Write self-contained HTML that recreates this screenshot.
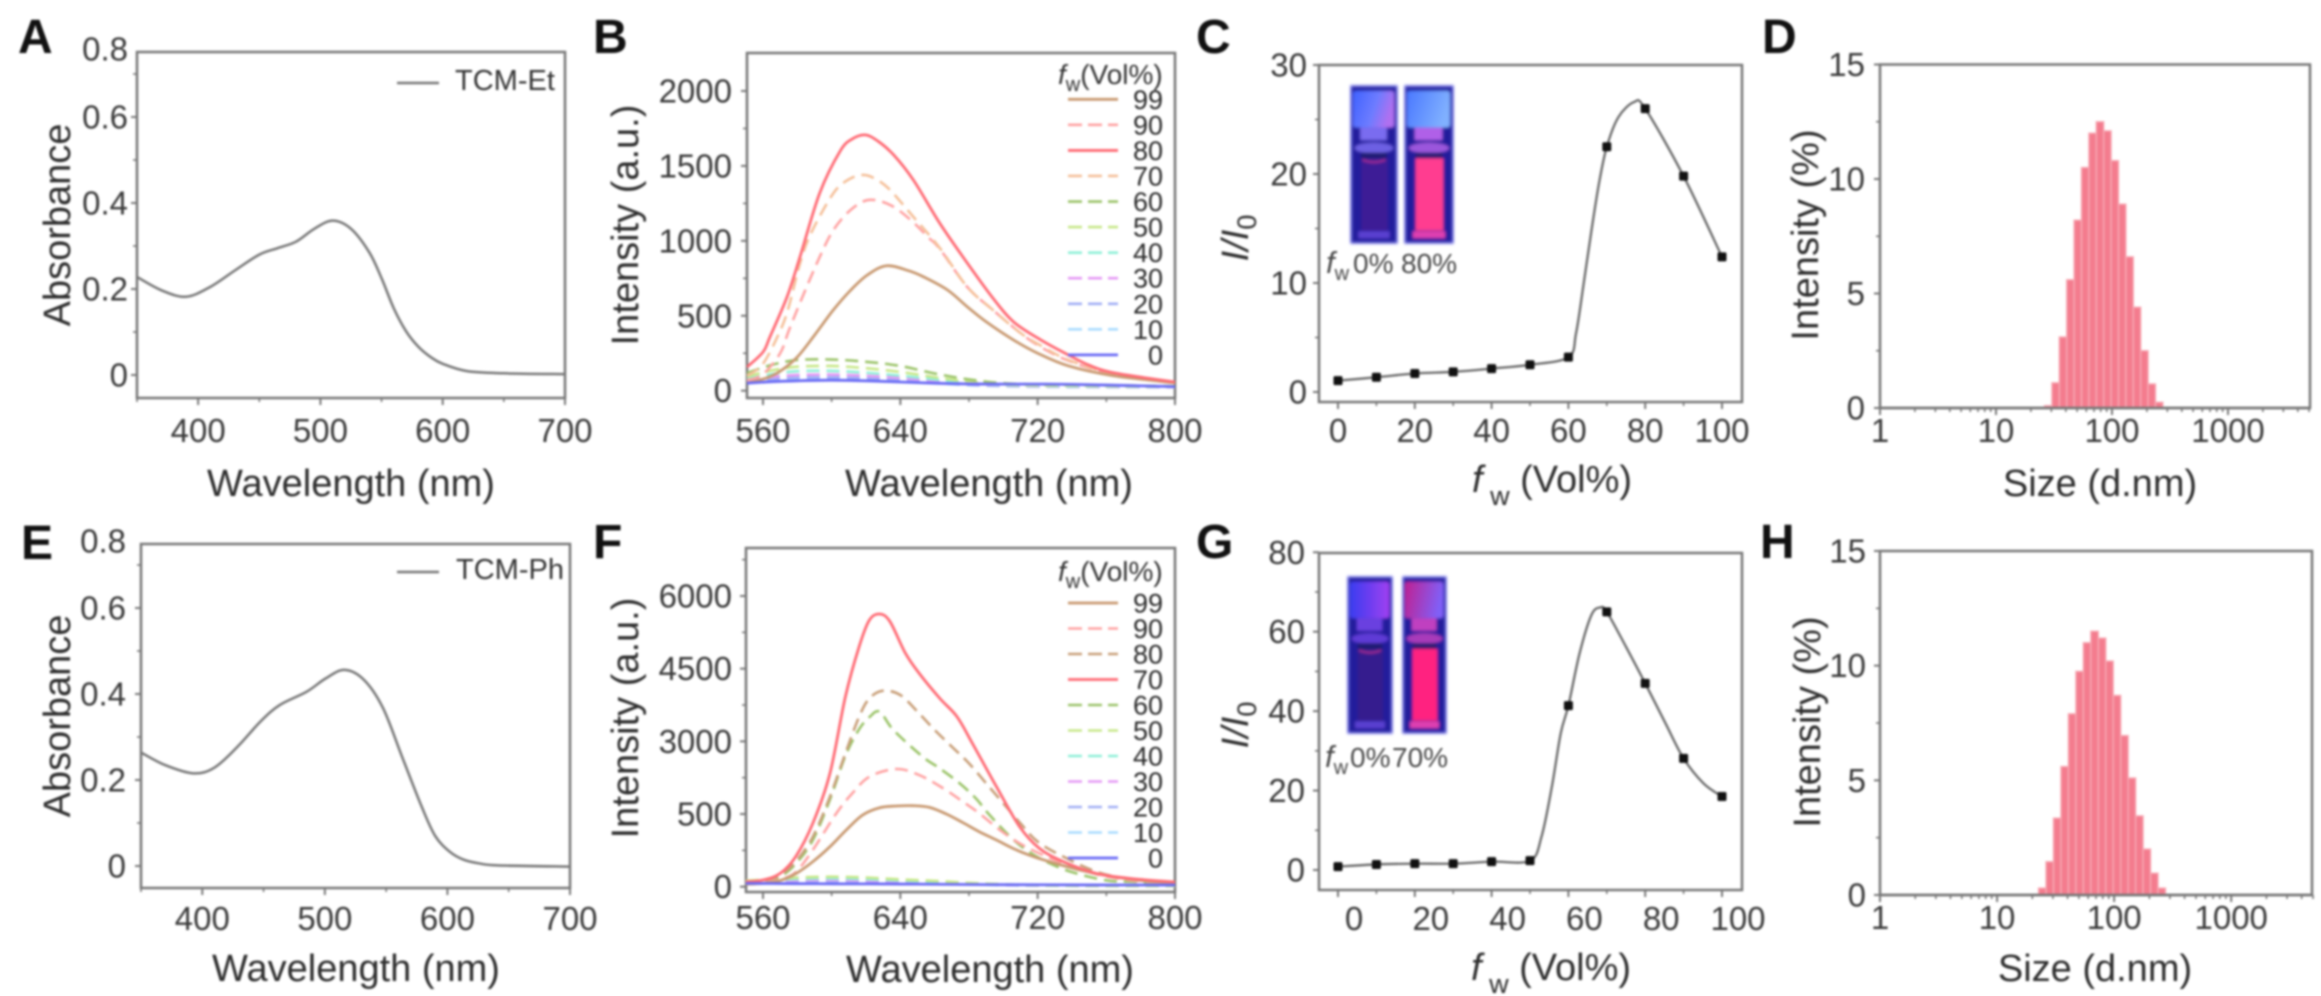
<!DOCTYPE html>
<html lang="en">
<head>
<meta charset="utf-8">
<title>TCM-Et and TCM-Ph characterization</title>
<style>
html,body{margin:0;padding:0;background:#fff;width:2321px;height:996px;overflow:hidden}
#figure{display:block;filter:blur(1px)}
text{font-family:"Liberation Sans",sans-serif;fill:#333}
.letter{font-size:48px;font-weight:bold;fill:#111}
.title{font-size:38px;fill:#2e2e2e}
.tick{font-size:33px;fill:#3a3a3a}
.leg{font-size:27px;fill:#2a2a2a}
.ltitle{font-size:28px;fill:#333}
.cap{font-size:28px;fill:#4a4a4a}
</style>
</head>
<body>
<svg id="figure" width="2321" height="996" viewBox="0 0 2321 996" xmlns="http://www.w3.org/2000/svg">
  <defs>
    <linearGradient id="capA" x1="0" y1="0" x2="1" y2="0.3"><stop offset="0" stop-color="#3f62ff"/><stop offset="0.6" stop-color="#6d7cff"/><stop offset="1" stop-color="#b070f0"/></linearGradient>
    <linearGradient id="capB" x1="0" y1="0" x2="1" y2="0.3"><stop offset="0" stop-color="#4a78ff"/><stop offset="1" stop-color="#80b0ff"/></linearGradient>
    <linearGradient id="capC" x1="0" y1="0" x2="1" y2="0"><stop offset="0" stop-color="#3a3cf0"/><stop offset="1" stop-color="#a040f0"/></linearGradient>
    <linearGradient id="capD" x1="0" y1="0" x2="1" y2="0.2"><stop offset="0" stop-color="#c02090"/><stop offset="1" stop-color="#8060f8"/></linearGradient>
    <filter id="vialBlur" x="-5%" y="-5%" width="110%" height="110%"><feGaussianBlur stdDeviation="1.4"/></filter>
  </defs>

  <g>
    <text class="letter" x="18" y="53">A</text>
    <text class="letter" x="593" y="53">B</text>
    <text class="letter" x="1196" y="53">C</text>
    <text class="letter" x="1762" y="53">D</text>
    <text class="letter" x="21" y="559">E</text>
    <text class="letter" x="593" y="558">F</text>
    <text class="letter" x="1196" y="558">G</text>
    <text class="letter" x="1760" y="558">H</text>
  </g>

  <g>
    <text class="title" x="351" y="496" text-anchor="middle">Wavelength (nm)</text>
    <text class="title" x="989" y="496" text-anchor="middle">Wavelength (nm)</text>
    <text class="title" x="1472" y="492"><tspan font-style="italic">f</tspan><tspan font-size="27" dy="13"> w</tspan><tspan dy="-13"> (Vol%)</tspan></text>
    <text class="title" x="2100" y="496" text-anchor="middle">Size (d.nm)</text>
    <text class="title" x="356" y="981" text-anchor="middle">Wavelength (nm)</text>
    <text class="title" x="990" y="982" text-anchor="middle">Wavelength (nm)</text>
    <text class="title" x="1471" y="980"><tspan font-style="italic">f</tspan><tspan font-size="27" dy="13"> w</tspan><tspan dy="-13"> (Vol%)</tspan></text>
    <text class="title" x="2095" y="981" text-anchor="middle">Size (d.nm)</text>

    <text class="title" transform="translate(70 225) rotate(-90)" text-anchor="middle">Absorbance</text>
    <text class="title" transform="translate(70 716) rotate(-90)" text-anchor="middle">Absorbance</text>
    <text class="title" transform="translate(638 225) rotate(-90)" text-anchor="middle">Intensity (a.u.)</text>
    <text class="title" transform="translate(638 718) rotate(-90)" text-anchor="middle">Intensity (a.u.)</text>
    <text class="title" transform="translate(1248 238) rotate(-90)" text-anchor="middle"><tspan font-style="italic">I/I</tspan><tspan font-size="27" dy="8">0</tspan></text>
    <text class="title" transform="translate(1248 725) rotate(-90)" text-anchor="middle"><tspan font-style="italic">I/I</tspan><tspan font-size="27" dy="8">0</tspan></text>
    <text class="title" transform="translate(1818 235) rotate(-90)" text-anchor="middle">Intensity (%)</text>
    <text class="title" transform="translate(1820 722) rotate(-90)" text-anchor="middle">Intensity (%)</text>
  </g>

  <g>
    <text class="cap" x="1326" y="273"><tspan font-style="italic" font-size="31">f</tspan><tspan font-size="20" dy="7">w</tspan><tspan x="1353" dy="-7">0%</tspan><tspan x="1401">80%</tspan></text>
    <text class="cap" x="1325" y="767"><tspan font-style="italic" font-size="31">f</tspan><tspan font-size="20" dy="7">w</tspan><tspan x="1350" dy="-7">0%</tspan><tspan x="1392">70%</tspan></text>
  </g>

  <g id="panel-a"></g>
  <g id="panel-b"></g>
  <g id="panel-c"></g>
  <g id="panel-d"></g>
  <g id="panel-e"></g>
  <g id="panel-f"></g>
  <g id="panel-g"></g>
  <g id="panel-h"></g>
</svg>

<script>
/* ---------- DATA: absorbance ---------- */
const aWave = [350,370,390,410,430,450,465,480,495,510,525,540,550,560,570,580,590,600,620,650,700];
const aAbs  = [0.228,0.197,0.182,0.205,0.243,0.28,0.295,0.31,0.34,0.359,0.34,0.285,0.225,0.155,0.102,0.066,0.042,0.026,0.009,0.004,0.002];
const eWave = [350,369.4,392.8,410,428.8,447.5,463,485,500.6,516,532,547.5,563,579,590,602,613,626,641,700];
const eAbs  = [0.264,0.235,0.2155,0.229,0.2775,0.336,0.374,0.405,0.436,0.456,0.4326,0.367,0.254,0.138,0.07,0.033,0.015,0.006,0.0015,-0.0015];
const absYTicks = [0,0.2,0.4,0.6,0.8];
const absYLabels = ['0','0.2','0.4','0.6','0.8'];
const absYMinor = [0.1,0.3,0.5,0.7];
const absXTicks = [400,500,600,700];
const absXLabels = ['400','500','600','700'];
const absXMinor = [350,450,550,650];

/* ---------- DATA: panel B emission ---------- */
const b99Wl = [550.7,562,570,580,590,601,611,620.8,632,645,653.5,667.5,679,690,706,720,738,764,800];
const b99I  = [50,85,130,225,370,539,670,772,834,800,760,672,560,460,338,250,165,100,53];
const b90Wl = [550.7,560,570,575,583,593,601,611,621.5,634,646,656,663,679,694,710,722,738,765,800];
const b90I  = [70,110,250,400,626,892,1072,1206,1273,1240,1140,1026,946,692,538,385,290,200,105,50];
const b80Wl = [550.7,560,564,574,581.6,593,605,612,619.6,627,636,647.6,663,679,694,706,722,738,750,765,800];
const b80I  = [158,258,358,626,895,1318,1600,1680,1707,1665,1575,1406,1117,852,617,459,338,238,170,118,58];
const b70Wl = [550.7,560,570,575,581.6,588,601,610,618.5,626,634,647.6,663,679,694,710,722,738,765,800];
const b70I  = [100,180,400,560,852,1052,1318,1410,1440,1410,1340,1160,952,692,538,385,300,205,110,50];
const bLowWl = [550.7,565,580,600,620,640,660,680,700,720,740,770,800];
const b60I = [118,172,205,208,193,165,115,75,50,42,40,35,30];
const b50I = [95,135,160,165,150,125,90,60,42,36,34,30,28];
const b40I = [80,110,130,132,120,100,75,50,38,33,30,28,26];
const b30I = [70,92,105,108,100,85,65,45,35,30,28,26,25];
const b20I = [60,78,88,90,84,72,56,40,32,28,26,25,24];
const b10I = [55,68,75,78,72,62,50,37,30,27,25,24,23];
const b0I  = [50,60,66,70,66,58,50,45,44,44,42,35,27];
const bYTicks = [0,500,1000,1500,2000];
const bYLabels = ['0','500','1000','1500','2000'];
const bYMinor = [250,750,1250,1750];
const emXTicks = [560,640,720,800];
const emXLabels = ['560','640','720','800'];
const emXMinor = [600,680,760];
const legendLabels = ['99','90','80','70','60','50','40','30','20','10','0'];

/* ---------- DATA: panel F emission ---------- */
const f99Wl = [550,560,569.7,579.4,589,599,608.5,618,628,637.7,647.4,657,666.8,676.5,686,696,705.6,715,725,744.5,764,783,800];
const f99I  = [50,69,124,275,516,826,1170,1479,1630,1665,1672,1637,1500,1321,1135,963,791,654,537,344,206,124,69];
const f90Wl = [550,560,570,579,589,602.7,612,622,637.6,651,665,676.5,686,698,709.5,721,735,755,775,800];
const f90I  = [70,80,150,300,757,1514,1926,2270,2429,2305,2030,1754,1514,1170,894,688,480,250,130,70];
const f80Wl = [550,560,570,579,589,599,608,616,622,630,640,650,660,670,680,690,700,710,720,735,755,775,800];
const f80I  = [90,110,240,516,1030,1858,2752,3509,3887,4045,3956,3612,3234,2890,2546,2133,1720,1307,929,619,300,150,60];
const f70Wl = [550,560,570,579,589,599,608,616,622,628,634,643,651,663,673,682,696,709.5,721,735,754,773.6,800];
const f70I  = [103,138,275,619,1307,2339,3922,4954,5504,5628,5470,4816,4403,3887,3509,2958,2064,1238,791,516,275,172,96];
const f60Wl = [550,560,570,579,589,599,608,616,622,628,636,653,663,674.6,684,692,704,713.4,725,740,760,775,800];
const f60I  = [100,110,210,470,960,1800,2700,3250,3500,3612,3234,2683,2442,2133,1823,1479,1032,757,516,300,130,100,60];
const fLowWl = [550,565,580,600,620,640,660,680,700,720,750,800];
const f50I = [124,150,190,206,190,150,120,80,50,30,20,15];
const f40I = [100,130,160,170,155,125,100,70,45,28,18,15];
const f30I = [90,110,130,140,125,105,85,60,40,25,18,14];
const f20I = [85,100,115,120,110,92,75,52,36,24,18,14];
const f10I = [75,88,100,105,95,82,65,46,32,22,16,12];
const f0I  = [69,66,62,60,58,55,50,45,42,40,36,34];
const fYTicks = [0,1500,3000,4500,6000];
const fYLabels = ['0','500','3000','4500','6000'];
const fYMinor = [750,2250,3750,5250,6750];

/* ---------- DATA: I/I0 ---------- */
const fracX = [0,10,20,30,40,50,60,70,80,90,100];
const cRatio = [1.04,1.35,1.7,1.85,2.15,2.5,3.2,22.5,26,19.8,12.4];
const cCurveX = [0,10,20,30,40,50,60,62,64,66,68,70,73,77.1,80,90,100];
const cCurveY = [1.04,1.35,1.7,1.85,2.15,2.5,3.2,5.4,10,14.8,19.2,22.5,25.2,26.6,26,19.8,12.4];
const cYTicks = [0,10,20,30];
const cYLabels = ['0','10','20','30'];
const cYMinor = [5,15,25];
const gRatio = [0.85,1.4,1.6,1.6,2.1,2.35,41.4,65,47,28.1,18.5];
const gCurveX = [0,10,20,30,40,50,53,55.7,58,60,62.9,66,68.3,70,75,80,85.3,90,95.2,100];
const gCurveY = [0.85,1.4,1.6,1.6,2.1,2.35,8.4,21,34.4,41.4,54.5,64.2,66.1,65,56.2,47,36.9,28.1,21.8,18.5];
const gYTicks = [0,20,40,60,80];
const gYLabels = ['0','20','40','60','80'];
const gYMinor = [10,30,50,70];
const fracXTicks = [0,20,40,60,80,100];
const fracXLabels = ['0','20','40','60','80','100'];
const fracXMinor = [10,30,50,70,90];

/* ---------- DATA: DLS size distribution ---------- */
const dSizes = [28.21,32.67,37.84,43.82,50.75,58.77,68.06,78.82,91.28,105.7,122.4,141.8,164.2,190.1,220.2,255];
const dVals  = [0.1,1.1,3.1,5.6,8.2,10.5,12.0,12.5,12.1,10.8,8.9,6.6,4.4,2.5,1.05,0.25];
const hSizes = [24.36,28.21,32.67,37.84,43.82,50.75,58.77,68.06,78.82,91.28,105.7,122.4,141.8,164.2,190.1,220.2,255];
const hVals  = [0.3,1.45,3.35,5.6,7.9,9.75,11.0,11.5,11.2,10.2,8.7,6.95,5.1,3.45,2.0,0.95,0.3];
const sizeXTicks = [1,10,100,1000];
const sizeXLabels = ['1','10','100','1000'];
const sizeXMinor = [2,3,4,5,6,7,8,9,20,30,40,50,60,70,80,90,200,300,400,500,600,700,800,900,2000,3000,4000,5000];
const sizeYTicks = [0,5,10,15];
const sizeYLabels = ['0','5','10','15'];
const sizeYMinor = [2.5,7.5,12.5];

/* ---------- drawing helpers ---------- */
const NS = 'http://www.w3.org/2000/svg';
const AXIS = '#777';
function mk(tag, attrs, parent) {
  const el = document.createElementNS(NS, tag);
  for (const k in attrs) el.setAttribute(k, attrs[k]);
  parent.appendChild(el);
  return el;
}
function linear(d0, d1, r0, r1) {
  return v => r0 + (v - d0) * (r1 - r0) / (d1 - d0);
}
function logScale(d0, d1, r0, r1) {
  const a = Math.log10(d0), b = Math.log10(d1);
  return v => r0 + (Math.log10(v) - a) * (r1 - r0) / (b - a);
}
function smoothPath(px, py) {
  let d = 'M' + px[0].toFixed(2) + ' ' + py[0].toFixed(2);
  for (let i = 0; i < px.length - 1; i++) {
    const x0 = px[Math.max(i - 1, 0)], y0 = py[Math.max(i - 1, 0)];
    const x1 = px[i], y1 = py[i], x2 = px[i + 1], y2 = py[i + 1];
    const x3 = px[Math.min(i + 2, px.length - 1)], y3 = py[Math.min(i + 2, px.length - 1)];
    d += 'C' + (x1 + (x2 - x0) / 6).toFixed(2) + ' ' + (y1 + (y2 - y0) / 6).toFixed(2) + ' ' +
         (x2 - (x3 - x1) / 6).toFixed(2) + ' ' + (y2 - (y3 - y1) / 6).toFixed(2) + ' ' +
         x2.toFixed(2) + ' ' + y2.toFixed(2);
  }
  return d;
}
function drawAxes(root, box, o) {
  const frame = mk('rect', {x: box.l, y: box.t, width: box.r - box.l, height: box.b - box.t, fill: 'none', stroke: AXIS, 'stroke-width': 2.5}, root);
  
  
  o.xTicks.forEach((v, i) => {
    const x = box.x(v);
    const t = mk('line', {x1: x, x2: x, y1: box.b, y2: box.b + 7, stroke: AXIS, 'stroke-width': 2}, root);
    
    
    const lab = mk('text', {class: 'tick', x: x + (o.xLabelShift || 0), y: box.labelY, 'text-anchor': 'middle'}, root);
    lab.textContent = o.xLabels[i];
    
    
  });
  o.xMinor.forEach(v => {
    const x = box.x(v);
    const t = mk('line', {x1: x, x2: x, y1: box.b, y2: box.b + 4, stroke: AXIS, 'stroke-width': 1.6}, root);
    
    
  });
  o.yTicks.forEach((v, i) => {
    const y = box.y(v);
    if (y >= box.t - 1) {
      const t = mk('line', {x1: box.l - 6, x2: box.l, y1: y, y2: y, stroke: AXIS, 'stroke-width': 2}, root);
      
      
    }
    const ly = Math.max(y, box.t - 3);
    const lab = mk('text', {class: 'tick', x: box.labelX, y: ly + 11.5, 'text-anchor': 'end'}, root);
    lab.textContent = o.yLabels[i];
    
    
  });
  o.yMinor.forEach(v => {
    const y = box.y(v);
    const t = mk('line', {x1: box.l - 4, x2: box.l, y1: y, y2: y, stroke: AXIS, 'stroke-width': 1.6}, root);
    
    
  });
}
function drawLine(root, box, xs, ys, color, width, dash, name) {
  const d = smoothPath(xs.map(box.x), ys.map(box.y));
  const p = mk('path', {d: d, fill: 'none', stroke: color, 'stroke-width': width, 'stroke-linejoin': 'round'}, root);
  if (dash) p.setAttribute('stroke-dasharray', dash);
  
  
}
function drawEmissionLegend(root, style, rowY0, rowStep, titleY) {
  const title = mk('text', {class: 'ltitle', x: 1058, y: titleY + 9}, root);
  
  
  const f = mk('tspan', {'font-style': 'italic'}, title); f.textContent = 'f';
  const w = mk('tspan', {'font-size': 20, dy: 7}, title); w.textContent = 'w';
  const rest = mk('tspan', {dy: -7}, title); rest.textContent = '(Vol%)';
  legendLabels.forEach((lab, i) => {
    const y = rowY0 + i * rowStep;
    const s = style[i];
    const l = mk('line', {x1: 1068, x2: 1118, y1: y, y2: y, stroke: s.c, 'stroke-width': s.w}, root);
    if (s.d) l.setAttribute('stroke-dasharray', '14 6');
    
    
    const t = mk('text', {class: 'leg', x: 1163, y: y + 9.5, 'text-anchor': 'end'}, root);
    t.textContent = lab;
    
    
  });
}
function drawAbsLegend(root, y, label, textX) {
  const l = mk('line', {x1: 397, x2: 439, y1: y, y2: y, stroke: '#777', 'stroke-width': 2.5}, root);
  
  
  const t = mk('text', {x: textX, y: y + 7, 'font-size': 29, fill: '#3c3c3c'}, root);
  t.textContent = label;
  
  
}
function drawRatio(root, box, curveX, curveY, vals) {
  drawLine(root, box, curveX, curveY, '#6a6a6a', 2.3, null, 'ratio-curve');
  fracX.forEach((x, i) => {
    const r = mk('rect', {x: box.x(x) - 4.5, y: box.y(vals[i]) - 4.5, width: 9, height: 9, rx: 1.5, fill: '#111'}, root);
    
    
  });
}
function drawBars(root, box, sizes, vals) {
  const base = box.y(0);
  const step = 0.0319;
  sizes.forEach((s, i) => {
    const x0 = box.x(s / Math.pow(10, step));
    const x1 = box.x(s * Math.pow(10, step));
    const top = box.y(vals[i]);
    const r = mk('rect', {x: x0, y: top, width: x1 - x0, height: base - top, fill: '#f47c8e', stroke: '#f7a9b4', 'stroke-width': 1.4}, root);
    
    
  });
  const axisLine = mk('line', {x1: box.l, x2: box.r, y1: base, y2: base, stroke: AXIS, 'stroke-width': 2.5}, root);
  
  
}
function drawVial(root, x, y, w, h, capFill, bodyFill, glint, bright) {
  const g = mk('g', {filter: 'url(#vialBlur)'}, root);
  
  
  mk('rect', {x: x, y: y, width: w, height: h, fill: '#231e9c', stroke: '#6a6ae8', 'stroke-width': 1.5}, g);
  mk('rect', {x: x + w * 0.04, y: y + h * 0.03, width: w * 0.9, height: h * 0.235, fill: capFill, rx: 3}, g);
  mk('rect', {x: x + w * 0.2, y: y + h * 0.265, width: w * 0.58, height: h * 0.08, fill: glint}, g);
  mk('ellipse', {cx: x + w * 0.5, cy: y + h * 0.395, rx: w * 0.42, ry: h * 0.035, fill: glint, opacity: 0.85}, g);
  mk('rect', {x: x + w * 0.22, y: y + h * 0.425, width: w * 0.56, height: h * 0.035, fill: '#1c1a70'}, g);
  mk('rect', {x: x + w * 0.22, y: y + h * 0.46, width: w * 0.58, height: h * 0.46, fill: bodyFill}, g);
  if (!bright) {
    mk('path', {d: 'M' + (x + w * 0.25) + ' ' + (y + h * 0.47) + ' Q' + (x + w * 0.5) + ' ' + (y + h * 0.5) + ' ' + (x + w * 0.75) + ' ' + (y + h * 0.47), fill: 'none', stroke: '#c03090', 'stroke-width': 1.5}, g);
  }
  mk('rect', {x: x + w * 0.16, y: y + h * 0.925, width: w * 0.68, height: h * 0.045, fill: bright ? '#e040b0' : '#5a3fd0'}, g);
}

/* ---------- panel boxes ---------- */
function boxFor(l, r, t, b, xs, ys, labelX, labelY) {
  return {l: l, r: r, t: t, b: b, x: xs, y: ys, labelX: labelX, labelY: labelY};
}
const boxA = boxFor(137, 565, 52, 398, linear(350, 700, 137, 565), linear(0, 0.6, 375, 117), 128, 442);
const boxE = boxFor(141, 570, 544, 888, linear(350, 700, 141, 570), linear(0, 0.6, 866, 608), 126, 930);
const boxB = boxFor(747, 1175, 53, 398, linear(560, 800, 763, 1175), linear(0, 2000, 390.7, 91), 732, 442);
const boxF = boxFor(746, 1175, 548, 892, linear(560, 800, 763, 1175), linear(0, 6000, 886.7, 596), 732, 929);
const boxC = boxFor(1319, 1742, 65, 402, linear(0, 100, 1338, 1722), linear(0, 30, 392, 65), 1307, 442);
const boxG = boxFor(1319, 1742, 553, 890, linear(0, 100, 1338, 1722), linear(0, 60, 870, 631.7), 1305, 930);
const boxD = boxFor(1880, 2310, 64.5, 408, logScale(1, 5093, 1880, 2310), linear(0, 15, 408, 64.5), 1865, 442);
const boxH = boxFor(1880, 2312, 551, 895, logScale(1, 4900, 1880, 2312), linear(0, 15, 895, 551), 1866, 929);

/* ---------- panel A ---------- */
const panelA = document.getElementById('panel-a');
drawAxes(panelA, boxA, {xTicks: absXTicks, xLabels: absXLabels, xMinor: absXMinor, yTicks: absYTicks, yLabels: absYLabels, yMinor: absYMinor});
drawLine(panelA, boxA, aWave, aAbs, '#777', 2.5, null, 'absorbance-curve');
drawAbsLegend(panelA, 83, 'TCM-Et', 455);

/* ---------- panel E ---------- */
const panelE = document.getElementById('panel-e');
drawAxes(panelE, boxE, {xTicks: absXTicks, xLabels: absXLabels, xMinor: absXMinor, yTicks: absYTicks, yLabels: absYLabels, yMinor: absYMinor});
drawLine(panelE, boxE, eWave, eAbs, '#777', 2.5, null, 'absorbance-curve');
drawAbsLegend(panelE, 572, 'TCM-Ph', 456);

/* ---------- panel B ---------- */
const panelB = document.getElementById('panel-b');
drawAxes(panelB, boxB, {xTicks: emXTicks, xLabels: emXLabels, xMinor: emXMinor, yTicks: bYTicks, yLabels: bYLabels, yMinor: bYMinor});
const DASH = '13 7';
drawLine(panelB, boxB, bLowWl, b10I, '#aadcff', 2.6, DASH, 'series-10');
drawLine(panelB, boxB, bLowWl, b20I, '#a3b0f5', 2.6, DASH, 'series-20');
drawLine(panelB, boxB, bLowWl, b30I, '#e59af5', 2.6, DASH, 'series-30');
drawLine(panelB, boxB, bLowWl, b40I, '#8ff0d8', 2.6, DASH, 'series-40');
drawLine(panelB, boxB, bLowWl, b50I, '#c8e88a', 2.6, DASH, 'series-50');
drawLine(panelB, boxB, bLowWl, b60I, '#9cc46a', 2.6, DASH, 'series-60');
drawLine(panelB, boxB, b90Wl, b90I, '#ffa3a3', 2.6, DASH, 'series-90');
drawLine(panelB, boxB, b70Wl, b70I, '#f5c09a', 2.6, DASH, 'series-70');
drawLine(panelB, boxB, b99Wl, b99I, '#c99a72', 2.8, null, 'series-99');
drawLine(panelB, boxB, b80Wl, b80I, '#ff6b75', 2.8, null, 'series-80');
drawLine(panelB, boxB, bLowWl, b0I, '#6a6af5', 2.8, null, 'series-0');
drawEmissionLegend(panelB, [
  {c: '#c99a72', w: 2.8}, {c: '#ffa3a3', w: 2.6, d: 1}, {c: '#ff6b75', w: 2.8},
  {c: '#f5c09a', w: 2.6, d: 1}, {c: '#9cc46a', w: 2.6, d: 1}, {c: '#c8e88a', w: 2.6, d: 1},
  {c: '#8ff0d8', w: 2.6, d: 1}, {c: '#e59af5', w: 2.6, d: 1}, {c: '#a3b0f5', w: 2.6, d: 1},
  {c: '#aadcff', w: 2.6, d: 1}, {c: '#6a6af5', w: 2.8}
], 99.3, 25.56, 75);

/* ---------- panel F ---------- */
const panelF = document.getElementById('panel-f');
drawAxes(panelF, boxF, {xTicks: emXTicks, xLabels: emXLabels, xMinor: emXMinor, yTicks: fYTicks, yLabels: fYLabels, yMinor: fYMinor});
drawLine(panelF, boxF, fLowWl, f10I, '#aadcff', 2.6, DASH, 'series-10');
drawLine(panelF, boxF, fLowWl, f20I, '#a3b0f5', 2.6, DASH, 'series-20');
drawLine(panelF, boxF, fLowWl, f30I, '#e59af5', 2.6, DASH, 'series-30');
drawLine(panelF, boxF, fLowWl, f40I, '#8ff0d8', 2.6, DASH, 'series-40');
drawLine(panelF, boxF, fLowWl, f50I, '#c8e88a', 2.6, DASH, 'series-50');
drawLine(panelF, boxF, f60Wl, f60I, '#9cc46a', 2.6, DASH, 'series-60');
drawLine(panelF, boxF, f80Wl, f80I, '#c9a07a', 2.6, DASH, 'series-80');
drawLine(panelF, boxF, f90Wl, f90I, '#ffa3a3', 2.6, DASH, 'series-90');
drawLine(panelF, boxF, f99Wl, f99I, '#c99a72', 2.8, null, 'series-99');
drawLine(panelF, boxF, f70Wl, f70I, '#ff6b75', 2.8, null, 'series-70');
drawLine(panelF, boxF, fLowWl, f0I, '#6a6af5', 2.8, null, 'series-0');
drawEmissionLegend(panelF, [
  {c: '#c99a72', w: 2.8}, {c: '#ffa3a3', w: 2.6, d: 1}, {c: '#c9a07a', w: 2.6, d: 1},
  {c: '#ff6b75', w: 2.8}, {c: '#9cc46a', w: 2.6, d: 1}, {c: '#c8e88a', w: 2.6, d: 1},
  {c: '#8ff0d8', w: 2.6, d: 1}, {c: '#e59af5', w: 2.6, d: 1}, {c: '#a3b0f5', w: 2.6, d: 1},
  {c: '#aadcff', w: 2.6, d: 1}, {c: '#6a6af5', w: 2.8}
], 603, 25.5, 572);

/* ---------- panels C and G ---------- */
const panelC = document.getElementById('panel-c');
drawAxes(panelC, boxC, {xTicks: fracXTicks, xLabels: fracXLabels, xMinor: fracXMinor, yTicks: cYTicks, yLabels: cYLabels, yMinor: cYMinor});
drawVial(panelC, 1351, 86, 46, 157, 'url(#capA)', '#3d1f96', '#7a6cf0', false);
drawVial(panelC, 1405, 86, 48, 157, 'url(#capB)', '#ff3c90', '#b060e8', true);
drawRatio(panelC, boxC, cCurveX, cCurveY, cRatio);

const panelG = document.getElementById('panel-g');
drawAxes(panelG, boxG, {xTicks: fracXTicks, xLabels: fracXLabels, xMinor: fracXMinor, xLabelShift: 16, yTicks: gYTicks, yLabels: gYLabels, yMinor: gYMinor});
drawVial(panelG, 1348, 577, 44, 156, 'url(#capC)', '#351c8e', '#6a40e0', false);
drawVial(panelG, 1403, 577, 43, 156, 'url(#capD)', '#ff2080', '#c040c0', true);
drawRatio(panelG, boxG, gCurveX, gCurveY, gRatio);

/* ---------- panels D and H ---------- */
const panelD = document.getElementById('panel-d');
drawAxes(panelD, boxD, {xTicks: sizeXTicks, xLabels: sizeXLabels, xMinor: sizeXMinor, yTicks: sizeYTicks, yLabels: sizeYLabels, yMinor: sizeYMinor});
drawBars(panelD, boxD, dSizes, dVals);

const panelH = document.getElementById('panel-h');
drawAxes(panelH, boxH, {xTicks: sizeXTicks, xLabels: sizeXLabels, xMinor: sizeXMinor, yTicks: sizeYTicks, yLabels: sizeYLabels, yMinor: sizeYMinor});
drawBars(panelH, boxH, hSizes, hVals);
</script>
</body>
</html>
